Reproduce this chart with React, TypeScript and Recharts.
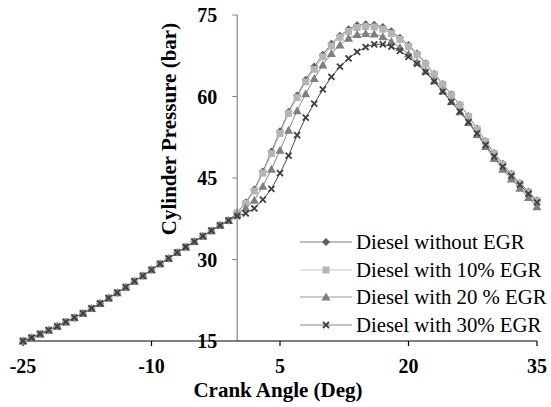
import React from 'react';
import { LineChart, Line, XAxis, YAxis, ReferenceLine } from 'recharts';

const angles = [-25, -24, -23, -22, -21, -20, -19, -18, -17, -16, -15, -14, -13, -12, -11, -10, -9, -8, -7, -6, -5, -4, -3, -2, -1,
  0, 1, 2, 3, 4, 5, 6, 7, 8, 9, 10, 11, 12, 13, 14, 15, 16, 17, 18, 19, 20, 21, 22, 23, 24, 25, 26, 27, 28, 29, 30, 31, 32, 33, 34, 35];

const dieselNoEGR = [15.0, 15.6, 16.3, 17.0, 17.7, 18.5, 19.3, 20.1, 21.0, 21.9, 22.9, 23.9, 24.9, 26.0, 27.0, 28.1, 29.2, 30.2, 31.3, 32.3, 33.3, 34.3, 35.3, 36.3, 37.2,
  38.7, 40.5, 42.9, 46.2, 49.9, 53.6, 57.2, 60.2, 63.1, 65.5, 67.7, 69.7, 71.2, 72.4, 73.1, 73.3, 73.2, 72.8, 72.0, 70.8, 69.5, 67.9, 66.1, 64.2, 62.3, 60.4, 58.5, 56.4, 54.1, 51.8, 49.6, 47.6, 45.8, 44.1, 42.5, 40.9];
const diesel10EGR = [15.0, 15.6, 16.3, 17.0, 17.7, 18.5, 19.3, 20.1, 21.0, 21.9, 22.9, 23.9, 24.9, 26.0, 27.0, 28.1, 29.2, 30.2, 31.3, 32.3, 33.3, 34.3, 35.3, 36.3, 37.2,
  38.6, 40.3, 42.6, 45.9, 49.5, 53.2, 56.9, 59.8, 62.7, 65.0, 67.3, 69.3, 70.9, 72.0, 72.7, 72.9, 72.8, 72.4, 71.6, 70.5, 69.2, 67.7, 66.0, 64.1, 62.2, 60.3, 58.4, 56.3, 54.0, 51.7, 49.5, 47.5, 45.7, 44.0, 42.4, 40.8];
const diesel20EGR = [15.0, 15.6, 16.3, 17.0, 17.7, 18.5, 19.3, 20.1, 21.0, 21.9, 22.9, 23.9, 24.9, 26.0, 27.0, 28.1, 29.2, 30.2, 31.3, 32.3, 33.3, 34.3, 35.3, 36.3, 37.2,
  38.3, 39.5, 40.9, 43.5, 46.6, 50.1, 53.8, 57.4, 60.5, 63.3, 65.8, 67.9, 69.5, 70.7, 71.4, 71.6, 71.5, 71.0, 70.1, 69.0, 67.8, 66.3, 64.7, 62.9, 61.0, 59.1, 57.2, 55.2, 53.0, 50.8, 48.6, 46.6, 44.8, 43.1, 41.4, 39.7];
const diesel30EGR = [15.0, 15.6, 16.3, 17.0, 17.7, 18.5, 19.3, 20.1, 21.0, 21.9, 22.9, 23.9, 24.9, 26.0, 27.0, 28.1, 29.2, 30.2, 31.3, 32.3, 33.3, 34.3, 35.3, 36.3, 37.2,
  38.0, 38.5, 39.4, 41.0, 43.0, 45.9, 49.1, 52.9, 56.1, 58.7, 61.3, 63.6, 65.5, 67.0, 68.2, 69.1, 69.6, 69.6, 69.2, 68.4, 67.3, 66.0, 64.5, 62.8, 60.9, 59.0, 57.2, 55.3, 53.2, 51.1, 49.0, 47.1, 45.4, 43.8, 42.1, 40.5];

const xTicks = [-25, -10, 5, 20, 35];
const yTicks = [15, 30, 45, 60, 75];
const seriesNames = ['Diesel without EGR', 'Diesel with 10% EGR', 'Diesel with 20 % EGR', 'Diesel with 30% EGR'];

const data = angles.map((a, i) => ({
  angle: a,
  s0: dieselNoEGR[i],
  s1: diesel10EGR[i],
  s2: diesel20EGR[i],
  s3: diesel30EGR[i],
}));

const W = 551;
const H = 407;
const Y_AXIS_W = 1;
const M = { top: 15, right: 14, left: 22, bottom: 0 };
const X_MIN = -25;
const X_MAX = 35;
const PLOT_LEFT = M.left + Y_AXIS_W;
const PLOT_W = W - PLOT_LEFT - M.right;
const ZERO_X = PLOT_LEFT + ((0 - X_MIN) / (X_MAX - X_MIN)) * PLOT_W;
const FONT = "'Liberation Serif', 'Times New Roman', 'DejaVu Serif', serif";

const COLORS = {
  diamond: '#5e5e5e',
  square: '#b5b5b5',
  triangle: '#7f7f7f',
  cross: '#3f3f3f',
};
const LINE_COLORS = ['#6e6e6e', '#bdbdbd', '#8a8a8a', '#474747'];
const LEGEND_LINE_COLORS = ['#7f7f7f', '#c8c8c8', '#9a9a9a', '#858585'];

const Diamond = ({ cx, cy }: any) => (
  <path d={`M${cx},${cy - 4}L${cx + 4},${cy}L${cx},${cy + 4}L${cx - 4},${cy}Z`} fill={COLORS.diamond} />
);
const Square = ({ cx, cy }: any) => (
  <rect x={cx - 3.5} y={cy - 3.5} width={7} height={7} fill={COLORS.square} />
);
const Triangle = ({ cx, cy }: any) => (
  <path d={`M${cx},${cy - 4.5}L${cx + 4.5},${cy + 3.5}L${cx - 4.5},${cy + 3.5}Z`} fill={COLORS.triangle} />
);
const Cross = ({ cx, cy }: any) => (
  <g stroke={COLORS.cross} strokeWidth={1.8}>
    <line x1={cx - 3} y1={cy - 3} x2={cx + 3} y2={cy + 3} />
    <line x1={cx - 3} y1={cy + 3} x2={cx + 3} y2={cy - 3} />
  </g>
);
const MARKERS = [Diamond, Square, Triangle, Cross];

const makeDot = (k: number) => (props: any) => {
  const C = MARKERS[k];
  if (props.cx == null || props.cy == null) return <g key={`d${k}-${props.index}`} />;
  return <C key={`d${k}-${props.index}`} cx={props.cx} cy={props.cy} />;
};

const textStyle = (size: number, bold: boolean) => ({
  fontFamily: FONT,
  fontSize: size,
  fontWeight: bold ? 700 : 400,
});

const YTick = (props: any) => {
  const { y, payload } = props;
  return (
    <g>
      <line x1={ZERO_X - 5} y1={y} x2={ZERO_X} y2={y} stroke="#868686" strokeWidth={1} />
      <text x={ZERO_X - 20} y={y} dy="0.35em" textAnchor="end" style={textStyle(20, true)} fill="#000">
        {payload.value}
      </text>
    </g>
  );
};

const XTick = (props: any) => {
  const { x, y, payload } = props;
  return (
    <text x={x} y={y} dy="0.7em" textAnchor="middle" style={textStyle(20, true)} fill="#000">
      {payload.value}
    </text>
  );
};

const YLabel = () => (
  <text
    x={176}
    y={129}
    transform="rotate(-90, 176, 129)"
    textAnchor="middle"
    style={textStyle(21, true)}
    fill="#000"
  >
    Cylinder Pressure (bar)
  </text>
);

const XLabel = (props: any) => {
  const vb = props.viewBox || { x: PLOT_LEFT, width: PLOT_W };
  return (
    <text
      x={vb.x + vb.width / 2 - 2}
      y={397}
      textAnchor="middle"
      style={textStyle(21, true)}
      fill="#000"
    >
      Crank Angle (Deg)
    </text>
  );
};

const LegendBox = () => {
  const rows = [242, 270, 297, 325];
  return (
    <svg width={W} height={H} style={{ position: 'absolute', left: 0, top: 0, pointerEvents: 'none' }}>
      {seriesNames.map((name, i) => {
        const C = MARKERS[i];
        const y = rows[i];
        return (
          <g key={name}>
            <line x1={300} y1={y} x2={352} y2={y} stroke={LEGEND_LINE_COLORS[i]} strokeWidth={1.2} />
            <C cx={326} cy={y} />
            <text x={356} y={y + 6.5} style={textStyle(20.8, false)} fill="#000">
              {name}
            </text>
          </g>
        );
      })}
    </svg>
  );
};

export default function App() {
  return (
    <div style={{ position: 'absolute', left: 0, top: 0, width: W, height: H, background: '#fff', fontFamily: FONT }}>
      <LineChart width={W} height={H} data={data} margin={M}>
        <XAxis
          dataKey="angle"
          type="number"
          domain={[X_MIN, X_MAX]}
          ticks={xTicks}
          interval={0}
          height={66}
          tickSize={5}
          tickMargin={13}
          axisLine={{ stroke: '#000', strokeWidth: 1.2 }}
          tickLine={{ stroke: '#000', strokeWidth: 1.2 }}
          tick={(p: any) => <XTick {...p} />}
          label={{ content: (p: any) => <XLabel {...p} /> }}
        />
        <YAxis
          type="number"
          domain={[15, 75]}
          ticks={yTicks}
          interval={0}
          width={Y_AXIS_W}
          tickSize={0}
          tickMargin={0}
          axisLine={false}
          tickLine={false}
          tick={(p: any) => <YTick {...p} />}
          label={{ content: () => <YLabel /> }}
        />
        <ReferenceLine x={0} stroke="#868686" strokeWidth={1.2} />
        {[0, 1, 2, 3].map((k) => (
          <Line
            key={k}
            dataKey={`s${k}`}
            name={seriesNames[k]}
            stroke={LINE_COLORS[k]}
            strokeWidth={1}
            dot={makeDot(k)}
            activeDot={false}
            isAnimationActive={false}
          />
        ))}
      </LineChart>
      <LegendBox />
    </div>
  );
}
